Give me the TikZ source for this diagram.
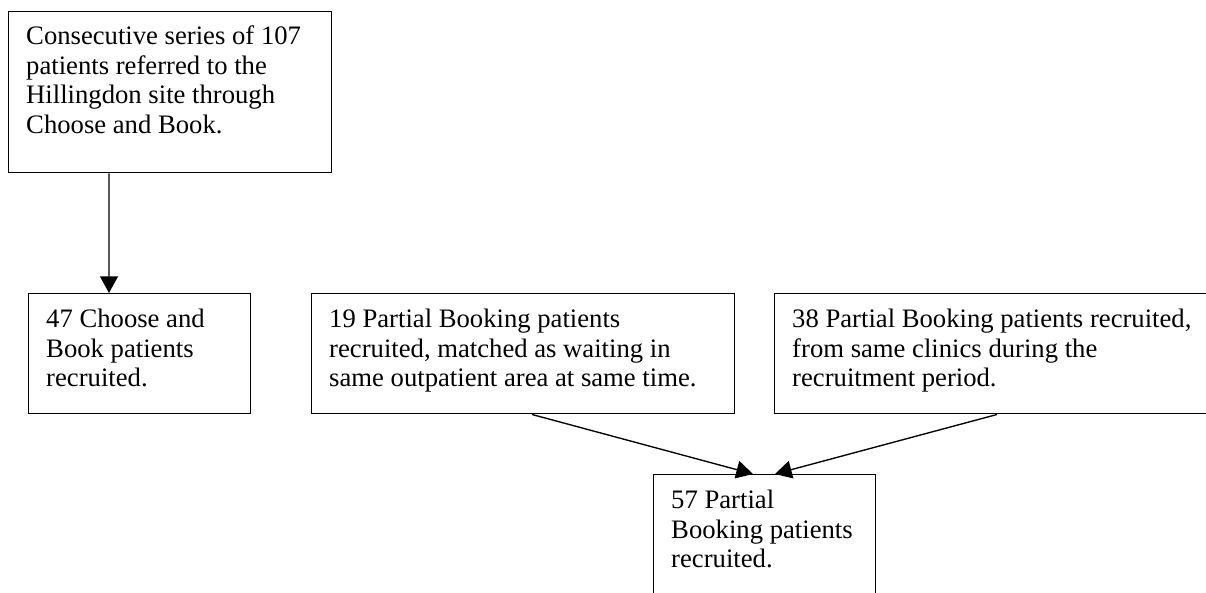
\documentclass[tikz,border=0pt]{standalone}
\usepackage{fontspec}
\setmainfont{Liberation Serif}
\usetikzlibrary{arrows.meta}
\newcommand{\boxcontent}[4]{\parbox[c][#2][t]{#1}{\raggedright\rule{0pt}{#3}#4}}
\tikzset{
  bx/.style={draw, line width=0.7pt, anchor=north west, inner xsep=8.4pt, inner ysep=0pt,
    font=\fontsize{12.8pt}{14.2pt}\selectfont},
  arr/.style={-{Triangle[length=8pt,width=8.6pt]}, line width=0.65pt}
}
\begin{document}
\begin{tikzpicture}[x=0.48pt, y=-0.48pt]
\fill[white] (0,0) rectangle (1206,592);
\clip (0,0) rectangle (1206,592);
\node[bx] (b1) at (8,11) {\boxcontent{138.2pt}{77.28pt}{15.8pt}{Consecutive series of 107\\ patients referred to the\\ Hillingdon site through\\ Choose and Book.}};
\node[bx] (b2) at (28,293) {\boxcontent{89.76pt}{57.6pt}{16.3pt}{47 Choose and\\ Book patients\\ recruited.}};
\node[bx] (b3) at (311,293) {\boxcontent{186.24pt}{57.6pt}{16.3pt}{19 Partial Booking patients\\ recruited, matched as waiting in\\ same outpatient area at same time.}};
\node[bx] (b4) at (774,293) {\boxcontent{199.2pt}{57.6pt}{16.3pt}{38 Partial Booking patients recruited,\\ from same clinics during the\\ recruitment period.}};
\node[bx] (b5) at (653,474) {\boxcontent{89.76pt}{67.2pt}{16.3pt}{57 Partial\\ Booking patients\\ recruited.}};
\draw[arr] ([xshift=48.48pt]b1.south west) -- ([xshift=38.88pt]b2.north west);
\draw[arr] ([xshift=106.08pt]b3.south west) -- ([xshift=48pt]b5.north west);
\draw[arr] ([xshift=107.04pt]b4.south west) -- ([xshift=58.56pt]b5.north west);
\end{tikzpicture}
\end{document}
